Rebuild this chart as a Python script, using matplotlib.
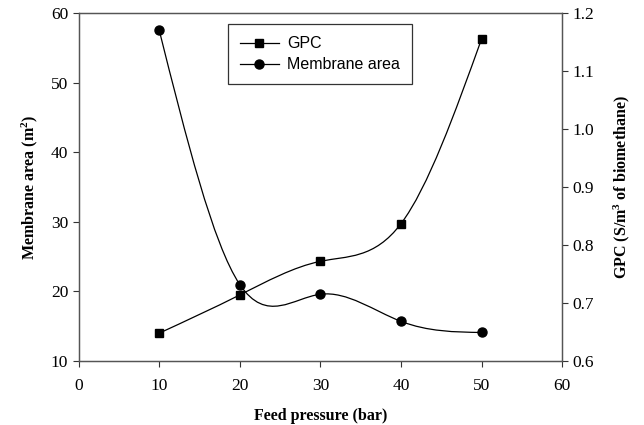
import numpy as np
import matplotlib
matplotlib.use("Agg")
import matplotlib.pyplot as plt
from matplotlib.path import Path
from matplotlib.patches import PathPatch
from matplotlib.lines import Line2D

# data
pressure = [10, 20, 30, 40, 50]
membrane_area = [57.6, 21.0, 19.6, 15.7, 14.1]
gpc = [0.648, 0.714, 0.772, 0.837, 1.156]


def spline_path(x, y):
    # natural cubic spline written as bezier segments
    x = np.asarray(x, float)
    y = np.asarray(y, float)
    n = len(x)
    h = np.diff(x)
    A = np.zeros((n, n))
    b = np.zeros(n)
    A[0, 0] = 1
    A[-1, -1] = 1
    for i in range(1, n - 1):
        A[i, i - 1] = h[i - 1]
        A[i, i] = 2 * (h[i - 1] + h[i])
        A[i, i + 1] = h[i]
        b[i] = 6 * ((y[i + 1] - y[i]) / h[i] - (y[i] - y[i - 1]) / h[i - 1])
    M = np.linalg.solve(A, b)
    m = np.zeros(n)
    for i in range(n - 1):
        m[i] = (y[i + 1] - y[i]) / h[i] - h[i] * (2 * M[i] + M[i + 1]) / 6
    m[-1] = (y[-1] - y[-2]) / h[-1] + h[-1] * (M[-2] + 2 * M[-1]) / 6
    verts = [(x[0], y[0])]
    codes = [Path.MOVETO]
    for i in range(n - 1):
        d = h[i] / 3
        verts += [(x[i] + d, y[i] + d * m[i]),
                  (x[i + 1] - d, y[i + 1] - d * m[i + 1]),
                  (x[i + 1], y[i + 1])]
        codes += [Path.CURVE4] * 3
    return Path(verts, codes)


plt.rcParams["font.family"] = ["Liberation Serif", "DejaVu Serif"]
plt.rcParams["mathtext.fontset"] = "custom"
plt.rcParams["mathtext.bf"] = "Liberation Serif:bold"
plt.rcParams["mathtext.rm"] = "Liberation Serif"

fig = plt.figure(figsize=(6.44, 4.25), dpi=100)
ax = fig.add_axes([0.122, 0.1506, 0.751, 0.818])
ax2 = ax.twinx()

ax.add_patch(PathPatch(spline_path(pressure, membrane_area), fill=False, lw=0.9, color="black"))
ax.plot(pressure, membrane_area, "o", color="black", ms=6.5)
ax2.add_patch(PathPatch(spline_path(pressure, gpc), fill=False, lw=0.9, color="black"))
ax2.plot(pressure, gpc, "s", color="black", ms=6)

ax.set_xlim(0, 60)
ax.set_ylim(10, 60)
ax2.set_ylim(0.6, 1.2)
ax.set_xticks(range(0, 61, 10))
ax.set_yticks(range(10, 61, 10))
ax2.set_yticks(np.round(np.arange(0.6, 1.21, 0.1), 1))
ax2.set_yticklabels(["%.1f" % v for v in np.arange(0.6, 1.21, 0.1)])

for a in (ax, ax2):
    a.tick_params(direction="out", labelsize=12.5, length=4, width=0.8, colors="#333333", labelcolor="black")
    for s in a.spines.values():
        s.set_color("#555555")
        s.set_linewidth(0.9)
ax.tick_params(axis="x", pad=8)

ax.set_xlabel("Feed pressure (bar)", fontsize=11.5, fontweight="bold", labelpad=10)
ax.set_ylabel("Membrane area (m$\\mathbf{^2}$)", fontsize=11.5, fontweight="bold", labelpad=8)
ax2.set_ylabel("GPC (S/m$\\mathbf{^3}$ of biomethane)", fontsize=11.5, fontweight="bold", labelpad=12)

handles = [Line2D([], [], color="black", lw=0.9, marker="s", ms=6),
           Line2D([], [], color="black", lw=0.9, marker="o", ms=6.5)]
leg = ax.legend(handles, ["GPC", "Membrane area"], loc="upper left",
                bbox_to_anchor=(0.293, 0.992), fancybox=False, framealpha=1,
                edgecolor="#333333", handlelength=2.4, handletextpad=0.55,
                borderpad=0.75, labelspacing=0.4,
                prop={"family": "Liberation Sans", "size": 11.5})
leg.get_frame().set_linewidth(0.9)

fig.savefig("out.png", dpi=100)
